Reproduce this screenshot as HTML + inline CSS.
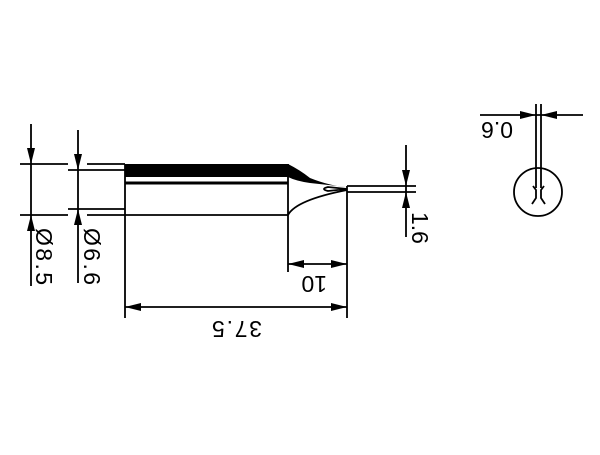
<!DOCTYPE html><html><head><style>body{margin:0;background:#fff}</style></head><body>
<svg width="600" height="450" viewBox="0 0 600 450" xmlns="http://www.w3.org/2000/svg" font-family="Liberation Sans, sans-serif">
<g stroke="#000" stroke-width="1.8" fill="none">
<line x1="125" y1="164" x2="125" y2="318"/>
<line x1="125" y1="215" x2="288" y2="215"/>
<line x1="288" y1="164" x2="288" y2="272"/>
<line x1="125" y1="183" x2="288" y2="183" stroke-width="3"/>
<path d="M288 215 Q296 200 347 190"/>
<line x1="347" y1="186" x2="347" y2="318"/>
<line x1="347" y1="186" x2="416" y2="186"/>
<line x1="347" y1="192" x2="416" y2="192"/>
<path d="M347 189 L328 187 Q320 189 328 191 Z"/>
<line x1="20" y1="164" x2="68" y2="164"/>
<line x1="87" y1="164" x2="125" y2="164"/>
<line x1="20" y1="215" x2="68" y2="215"/>
<line x1="87" y1="215" x2="125" y2="215"/>
<line x1="68" y1="170" x2="125" y2="170"/>
<line x1="68" y1="209" x2="125" y2="209"/>
<line x1="31" y1="124" x2="31" y2="286"/>
<line x1="78" y1="130" x2="78" y2="283"/>
<line x1="288" y1="264" x2="347" y2="264"/>
<line x1="125" y1="307" x2="347" y2="307"/>
<line x1="406" y1="145" x2="406" y2="237"/>
<line x1="480" y1="115" x2="583" y2="115"/>
<line x1="536" y1="104" x2="536" y2="188"/>
<line x1="541" y1="104" x2="541" y2="188"/>
<circle cx="538" cy="192" r="24"/>
<path d="M533 186 L536 190 L536 198 L532 204 M544 186 L541 190 L541 198 L545 204"/>
</g>
<path d="M125 164 L288 164 Q300 170 310 178 Q330 186 347 187 L310 183 Q296 181 288 177 L125 177 Z" fill="#000"/>
<g fill="#000">
<path d="M31 164 L27 148 L35 148 Z"/><path d="M31 215 L27 231 L35 231 Z"/>
<path d="M78 170 L74 154 L82 154 Z"/><path d="M78 209 L74 225 L82 225 Z"/>
<path d="M288 264 L304 260 L304 268 Z"/><path d="M347 264 L331 260 L331 268 Z"/>
<path d="M125 307 L141 303 L141 311 Z"/><path d="M347 307 L331 303 L331 311 Z"/>
<path d="M406 186 L402 170 L410 170 Z"/><path d="M406 192 L402 208 L410 208 Z"/>
<path d="M536 115 L520 111 L520 119 Z"/><path d="M541 115 L557 111 L557 119 Z"/>
</g>
<g font-size="23" fill="#000">
<text transform="translate(36,228) rotate(90)" textLength="57">Ø8.5</text>
<text transform="translate(84,228) rotate(90)" textLength="57">Ø6.6</text>
<text transform="translate(327,276) rotate(180)">10</text>
<text transform="translate(262,321) rotate(180)" textLength="50">37.5</text>
<text transform="translate(412,212) rotate(90)">1.6</text>
<text transform="translate(513,122) rotate(180)">0.6</text>
</g>
</svg>
</body></html>
